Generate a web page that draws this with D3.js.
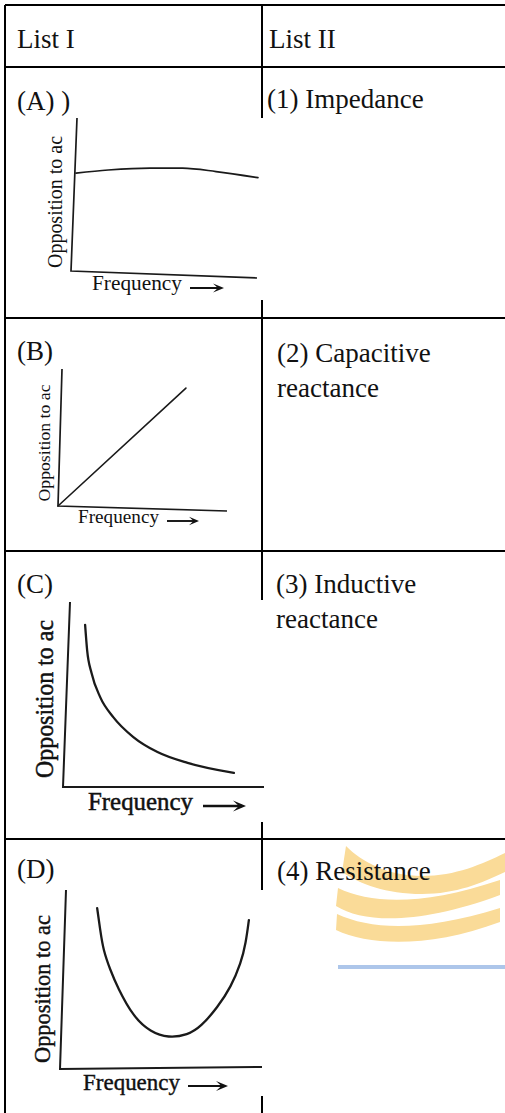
<!DOCTYPE html>
<html>
<head>
<meta charset="utf-8">
<script src="https://cdn.jsdelivr.net/npm/d3@7"></script>
<style>
  body { margin: 0; background: #fff; }
  svg { display: block; }
  text { font-family: "Liberation Serif", "Times New Roman", serif; fill: #111; }
</style>
</head>
<body>
<svg id="chart" width="505" height="1113"></svg>
<script>
// table text
var headers = ["List I", "List II"];
var listOne = ["(A) )", "(B)", "(C)", "(D)"];
var listTwo = [["(1) Impedance"], ["(2) Capacitive", "reactance"], ["(3) Inductive", "reactance"], ["(4) Resistance"]];
var yLabel = "Opposition to ac";
var xLabel = "Frequency";

// curves, frequency vs opposition (0-10 on both axes)
var freqA = [0.27, 2, 4.25, 6, 7.8, 10.05];
var oppA  = [6.4, 6.6, 6.73, 6.72, 6.5, 6.1];
var freqB = [0, 7.57];
var oppB  = [0, 8.61];
var freqC = [1.1, 1.2, 1.42, 1.85, 2.5, 3.5, 4.7, 6.2, 8.5];
var oppC  = [8.76, 7.4, 6.16, 4.86, 3.78, 2.7, 1.89, 1.3, 0.76];
var freqD = [1.84, 1.99, 2.14, 2.49, 2.84, 3.63, 4.48, 5.37, 6.32, 6.97, 7.81, 8.46, 8.96, 9.2, 9.35];
var oppD  = [8.99, 7.77, 6.65, 5.53, 4.58, 2.91, 2.07, 1.73, 1.9, 2.35, 3.46, 4.58, 5.92, 7.04, 8.32];

var svg = d3.select("#chart");
var W = 505, H = 1113;
var colX = [5, 262];
var rowY = [5, 67, 318, 551, 839];

svg.append("rect").attr("width", W).attr("height", H).attr("fill", "#fff");

// faint watermark behind the last row
var wm = svg.append("g").attr("id", "watermark");
wm.append("path")
    .attr("d", "M346,846 C362,862 388,876 422,876 C456,876 482,864 505,853 L505,872 C482,883 456,894 422,894 C386,894 360,884 342,872 Z")
    .attr("fill", "#fadb98");
wm.append("path")
    .attr("d", "M338,888 C372,904 422,906 500,880 L500,895 C422,924 365,924 336,906 Z")
    .attr("fill", "#fadb98");
wm.append("path")
    .attr("d", "M337,914 C372,930 422,932 500,908 L500,922 C430,948 370,946 336,930 Z")
    .attr("fill", "#fadb98");
wm.append("line")
    .attr("x1", 338).attr("x2", 505).attr("y1", 967).attr("y2", 967)
    .attr("stroke", "#adc6ea").attr("stroke-width", 4);

// table grid
var grid = svg.append("g").attr("id", "grid")
    .attr("stroke", "#000").attr("stroke-width", 2);
grid.selectAll("line.h")
    .data(rowY)
    .enter()
    .append("line")
    .attr("class", "h")
    .attr("x1", colX[0]).attr("x2", W)
    .attr("y1", d => d).attr("y2", d => d);
grid.selectAll("line.v")
    .data(colX)
    .enter()
    .append("line")
    .attr("class", "v")
    .attr("x1", d => d).attr("x2", d => d)
    .attr("y1", rowY[0]).attr("y2", H);

// header row
svg.append("g")
    .selectAll("text")
    .data(headers)
    .enter()
    .append("text")
    .attr("x", (d, i) => i === 0 ? 17 : 269)
    .attr("y", 48)
    .attr("font-size", 27)
    .text(d => d);

// panel layout (pixel frame of each pasted graph)
var panels = [
    { freq: freqA, opp: oppA, x0: 71, x1: 257, y0: 271, yTop: 118, lean: 6, drop: 7,
      axisW: 1.7, curveW: 1.7, curve: d3.curveMonotoneX, heavy: 0,
      img: [28, 118, 266, 300],
      yLab: { x: 62, y: 202, size: 20, len: 132 },
      xLab: { x: 92, y: 290, size: 21, len: 90 },
      arrow: { x0: 190, x1: 224, y: 288, head: 11, w: 2 },
      textY: 110, rightX: 267, rightY: 108 },
    { freq: freqB, opp: oppB, x0: 58, x1: 227, y0: 506, yTop: 369, lean: 4, drop: 5,
      axisW: 1.7, curveW: 1.6, curve: d3.curveLinear, heavy: 0,
      img: null,
      yLab: { x: 50, y: 443, size: 17.5, len: 117 },
      xLab: { x: 78, y: 523, size: 19.5, len: 81 },
      arrow: { x0: 167, x1: 199, y: 521, head: 10, w: 1.9 },
      textY: 360, rightX: 277, rightY: 362 },
    { freq: freqC, opp: oppC, x0: 63, x1: 264, y0: 787, yTop: 602, lean: 7, drop: 0,
      axisW: 2, curveW: 2.3, curve: d3.curveMonotoneX, heavy: 0.5,
      img: [28, 600, 266, 822],
      yLab: { x: 53, y: 699, size: 25, len: 158 },
      xLab: { x: 88, y: 810, size: 25, len: 105 },
      arrow: { x0: 203, x1: 246, y: 806, head: 13, w: 2.4 },
      textY: 593, rightX: 276, rightY: 593 },
    { freq: freqD, opp: oppD, x0: 60, x1: 262, y0: 1069, yTop: 890, lean: 6, drop: -2,
      axisW: 2, curveW: 2.3, curve: d3.curveBasis, heavy: 0.4,
      img: [28, 890, 266, 1096],
      yLab: { x: 50, y: 989, size: 23, len: 148 },
      xLab: { x: 83, y: 1090, size: 23, len: 97 },
      arrow: { x0: 188, x1: 228, y: 1086, head: 12, w: 2.2 },
      textY: 878, rightX: 277, rightY: 880 }
];

panels.forEach(function(p, i) {
    var g = svg.append("g").attr("class", "panel");

    // pasted images are white and hide the column divider
    if (p.img) {
        g.append("rect")
            .attr("x", p.img[0]).attr("y", p.img[1])
            .attr("width", p.img[2] - p.img[0]).attr("height", p.img[3] - p.img[1])
            .attr("fill", "#fff");
    }

    var xScale = d3.scaleLinear().domain([0, 10]).range([p.x0, p.x1]);
    var yScale = d3.scaleLinear().domain([0, 10]).range([p.y0, p.yTop]);

    // axes as drawn by hand: slightly leaning
    g.append("path")
        .attr("d", "M" + (xScale(0) + p.lean) + "," + yScale(10) +
                   "L" + xScale(0) + "," + yScale(0) +
                   "L" + xScale(10) + "," + (yScale(0) + p.drop))
        .attr("fill", "none")
        .attr("stroke", "#1a1a1a")
        .attr("stroke-width", p.axisW);

    var pts = p.freq.map((f, j) => [f, p.opp[j]]);
    var line = d3.line()
        .x(d => xScale(d[0]))
        .y(d => yScale(d[1]))
        .curve(p.curve);
    g.append("path")
        .datum(pts)
        .attr("d", line)
        .attr("fill", "none")
        .attr("stroke", "#1a1a1a")
        .attr("stroke-width", p.curveW)
        .attr("stroke-linecap", "round");

    g.append("text")
        .attr("transform", "translate(" + p.yLab.x + "," + p.yLab.y + ") rotate(-90)")
        .attr("text-anchor", "middle")
        .attr("font-size", p.yLab.size)
        .attr("textLength", p.yLab.len)
        .attr("lengthAdjust", "spacingAndGlyphs")
        .attr("stroke", "#111")
        .attr("stroke-width", p.heavy)
        .text(yLabel);

    g.append("text")
        .attr("x", p.xLab.x)
        .attr("y", p.xLab.y)
        .attr("font-size", p.xLab.size)
        .attr("textLength", p.xLab.len)
        .attr("lengthAdjust", "spacingAndGlyphs")
        .attr("stroke", "#111")
        .attr("stroke-width", p.heavy)
        .text(xLabel);

    var a = p.arrow, h = a.head;
    g.append("line")
        .attr("x1", a.x0).attr("x2", a.x1 - 4)
        .attr("y1", a.y).attr("y2", a.y)
        .attr("stroke", "#111").attr("stroke-width", a.w);
    g.append("path")
        .attr("d", "M" + a.x1 + "," + a.y + "L" + (a.x1 - h) + "," + (a.y - h * 0.42) +
                   "L" + (a.x1 - h * 0.55) + "," + a.y + "L" + (a.x1 - h) + "," + (a.y + h * 0.42) + "Z")
        .attr("fill", "#111");

    // list entries
    svg.append("text")
        .attr("x", 17).attr("y", p.textY)
        .attr("font-size", 27)
        .text(listOne[i]);
    svg.append("text")
        .attr("x", p.rightX).attr("y", p.rightY)
        .attr("font-size", 27)
        .selectAll("tspan")
        .data(listTwo[i])
        .enter()
        .append("tspan")
        .attr("x", p.rightX)
        .attr("dy", (d, j) => j === 0 ? 0 : 35)
        .text(d => d);
});
</script>
</body>
</html>
